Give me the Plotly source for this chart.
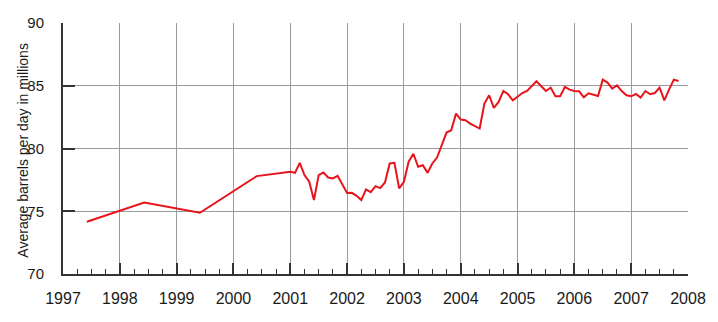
import plotly.graph_objects as go

# Annual averages (1997-2000), plotted at mid-year
annual_x = [1997.42, 1998.43, 1999.41, 2000.41]
annual_values = [74.16, 75.70, 74.88, 77.80]

# Monthly values from Jan 2001 to Nov 2007
monthly_start_year = 2001
monthly_values = [
    # 2001
    78.14, 78.06, 78.86, 77.88, 77.35, 75.89, 77.88, 78.09, 77.69, 77.61, 77.82, 77.08,
    # 2002
    76.45, 76.47, 76.23, 75.89, 76.74, 76.52, 77.00, 76.84, 77.29, 78.81, 78.86, 76.82,
    # 2003
    77.35, 78.95, 79.58, 78.54, 78.67, 78.06, 78.81, 79.28, 80.30, 81.27, 81.46, 82.78,
    # 2004
    82.31, 82.25, 81.99, 81.80, 81.59, 83.58, 84.24, 83.23, 83.71, 84.58, 84.32, 83.84,
    # 2005
    84.10, 84.42, 84.58, 85.00, 85.36, 84.96, 84.58, 84.85, 84.16, 84.16, 84.90, 84.69,
    # 2006
    84.58, 84.56, 84.08, 84.40, 84.30, 84.18, 85.49, 85.25, 84.77, 85.04, 84.58, 84.24,
    # 2007
    84.16, 84.34, 84.06, 84.58, 84.32, 84.42, 84.85, 83.84, 84.69, 85.49, 85.38,
]
monthly_x = [monthly_start_year + i / 12 for i in range(len(monthly_values))]

x_ticks = list(range(1997, 2009))
y_ticks = [70, 75, 80, 85, 90]
y_title = "Average barrels per day in millions"

xs = annual_x + monthly_x
ys = annual_values + monthly_values

fig = go.Figure()
fig.add_trace(go.Scatter(x=xs, y=ys, mode="lines",
                         line=dict(color="#e8141c", width=2), hoverinfo="skip"))

font = "Liberation Sans, Arial, sans-serif"
fig.update_layout(
    width=718, height=322,
    margin=dict(l=63, r=28, t=23, b=48),
    paper_bgcolor="white", plot_bgcolor="white",
    showlegend=False,
    font=dict(family=font, size=16, color="#1a1a1a"),
)
fig.update_xaxes(
    range=[1997, 2008], tickvals=x_ticks, ticktext=[str(v) for v in x_ticks],
    showgrid=True, gridcolor="#9a9a9a", gridwidth=1,
    showline=True, linecolor="#333333", linewidth=2,
    ticks="inside", ticklen=11, tickwidth=2, tickcolor="#333333",
    ticklabelstandoff=9,
    minor=dict(dtick=0.25, tick0=1997, ticks="inside", ticklen=5, tickwidth=1,
               tickcolor="#333333", showgrid=False),
    zeroline=False, fixedrange=True,
)
fig.update_yaxes(
    range=[70, 90], tickvals=y_ticks,
    showgrid=True, gridcolor="#9a9a9a", gridwidth=1,
    showline=True, linecolor="#333333", linewidth=2,
    ticks="inside", ticklen=12, tickwidth=2, tickcolor="#333333",
    ticklabelstandoff=14, tickfont=dict(size=15),
    zeroline=False, fixedrange=True,
)
fig.add_annotation(
    text=y_title, textangle=-90, showarrow=False,
    xref="paper", yref="paper", x=(22 - 63) / 627, y=0.5, yshift=-2,
    xanchor="center", yanchor="middle",
    font=dict(size=14, family=font, color="#1a1a1a"),
)

fig.write_html("out.html", config={"displayModeBar": False})
